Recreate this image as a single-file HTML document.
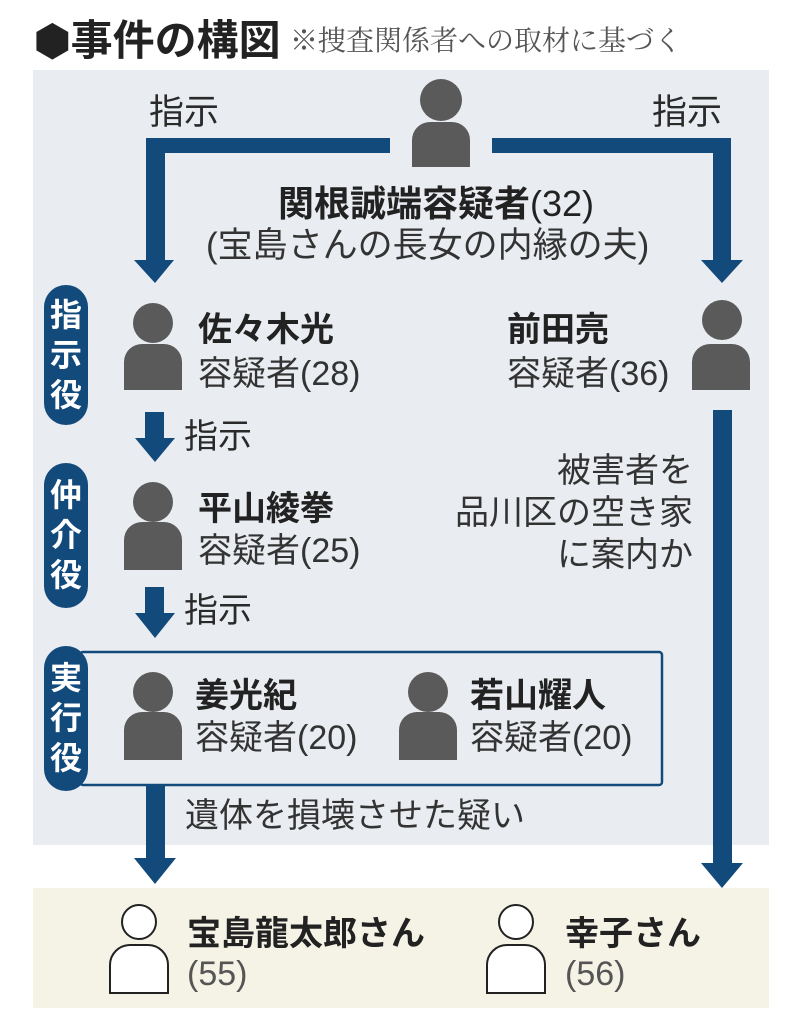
<!DOCTYPE html>
<html><head><meta charset="utf-8"><style>
*{margin:0;padding:0;box-sizing:border-box}
body{width:802px;height:1024px;background:#fff;position:relative;overflow:hidden;font-family:"Liberation Sans","Noto Sans CJK JP",sans-serif;color:#2a2a2a}
.a{position:absolute;white-space:nowrap;line-height:1}
.pill{position:absolute;background:#134a7c;border-radius:22px;color:#fff;font-weight:bold;font-size:32px;line-height:40px;text-align:center;width:44px}
.nm{font-size:34px;font-weight:bold;color:#222}
.sub{font-size:34px;color:#333}
</style></head><body>
<div class="a" style="left:34px;top:20px;font-size:42px;font-weight:bold;color:#222">⬢事件の構図</div>
<div class="a" style="left:290px;top:28px;font-size:28px;color:#555;font-family:'Liberation Serif','Noto Serif CJK SC',serif">※捜査関係者への取材に基づく</div>
<div style="position:absolute;left:33px;top:70px;width:736px;height:775px;background:#e9ecf0"></div>
<div style="position:absolute;left:33px;top:888px;width:736px;height:120px;background:#f5f3e5"></div>

<svg style="position:absolute;left:0;top:0" width="802" height="1024">
<g fill="#5a5a5a">
<circle cx="441" cy="100" r="21"/><path d="M412 167V140a18 18 0 0 1 18-18h22a18 18 0 0 1 18 18v27z"/>
<circle cx="153" cy="323" r="20"/><path d="M124 390V362a18 18 0 0 1 18-18h22a18 18 0 0 1 18 18v28z"/>
<circle cx="722" cy="320" r="20"/><path d="M692 390V362a18 18 0 0 1 18-18h22a18 18 0 0 1 18 18v28z"/>
<circle cx="153" cy="502" r="20"/><path d="M124 570V540a18 18 0 0 1 18-18h22a18 18 0 0 1 18 18v30z"/>
<circle cx="153" cy="692" r="20"/><path d="M124 760V730a18 18 0 0 1 18-18h22a18 18 0 0 1 18 18v30z"/>
<circle cx="428" cy="692" r="20"/><path d="M399 760V730a18 18 0 0 1 18-18h22a18 18 0 0 1 18 18v30z"/>
</g>
<g fill="#fff" stroke="#222" stroke-width="2">
<path d="M110 993V965a20 20 0 0 1 20-20h18a20 20 0 0 1 20 20v28z"/><circle cx="139" cy="922" r="17"/>
<path d="M487 993V965a20 20 0 0 1 20-20h18a20 20 0 0 1 20 20v28z"/><circle cx="516" cy="922" r="17"/>
</g>
<g fill="#134a7c">
<path d="M146 138H390V153H165V260H174L155 283L134 260H146Z"/>
<path d="M492 138H731V260H743L722 283L701 260H713V153H492Z"/>
<rect x="713" y="410" width="19" height="455"/><path d="M701 863H743L722 888Z"/>
<rect x="145" y="412" width="19" height="28"/><path d="M135 438H175L155 462Z"/>
<rect x="145" y="587" width="19" height="28"/><path d="M135 613H175L155 638Z"/>
<rect x="146" y="785" width="19" height="75"/><path d="M134 858H176L155 884Z"/>
</g>
<rect x="80" y="652" width="582" height="133" fill="none" stroke="#134a7c" stroke-width="2.5" rx="3"/>
</svg>

<div class="a" style="left:149px;top:95px;font-size:35px;color:#2a2a2a">指示</div>
<div class="a" style="left:652px;top:95px;font-size:35px;color:#2a2a2a">指示</div>
<div class="a nm" style="left:278px;top:186px;font-size:36px">関根誠端容疑者<span style="font-weight:normal">(32)</span></div>
<div class="a sub" style="left:206px;top:228px;font-size:35px">(宝島さんの長女の内縁の夫)</div>

<div class="pill" style="left:44px;top:285px;height:140px;padding-top:10px">指<br>示<br>役</div>
<div class="pill" style="left:44px;top:463px;height:145px;padding-top:12px">仲<br>介<br>役</div>
<div class="pill" style="left:44px;top:646px;height:145px;padding-top:12px">実<br>行<br>役</div>

<div class="a nm" style="left:198px;top:313px">佐々木光</div>
<div class="a sub" style="left:198px;top:357px">容疑者(28)</div>
<div class="a nm" style="left:507px;top:313px">前田亮</div>
<div class="a sub" style="left:507px;top:357px">容疑者(36)</div>
<div class="a" style="left:184px;top:420px;font-size:34px">指示</div>
<div class="a nm" style="left:198px;top:492px">平山綾拳</div>
<div class="a sub" style="left:198px;top:534px">容疑者(25)</div>
<div class="a" style="left:184px;top:594px;font-size:34px">指示</div>
<div class="a sub" style="right:109px;top:450px;text-align:right;line-height:42px">被害者を<br>品川区の空き家<br>に案内か</div>
<div class="a nm" style="left:195px;top:679px">姜光紀</div>
<div class="a sub" style="left:195px;top:721px">容疑者(20)</div>
<div class="a nm" style="left:470px;top:679px">若山耀人</div>
<div class="a sub" style="left:470px;top:721px">容疑者(20)</div>
<div class="a sub" style="left:185px;top:799px">遺体を損壊させた疑い</div>
<div class="a nm" style="left:187px;top:917px">宝島龍太郎さん</div>
<div class="a sub" style="left:187px;top:957px;color:#555">(55)</div>
<div class="a nm" style="left:565px;top:917px">幸子さん</div>
<div class="a sub" style="left:565px;top:957px;color:#555">(56)</div>
</body></html>
